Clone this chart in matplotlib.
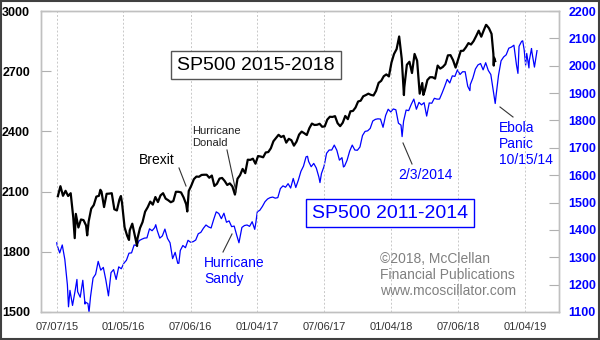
import matplotlib
matplotlib.use("Agg")
import matplotlib.pyplot as plt
import matplotlib.dates as mdates
from matplotlib.lines import Line2D
from matplotlib.patches import Rectangle
import pandas as pd

plt.rcParams["font.family"] = ["Liberation Sans", "DejaVu Sans"]

# S&P 500 weekly closes (Fridays), Jul 2015 - Oct 2018
sp_recent_start = "2015-07-10"
sp_recent_weekly = [
    2077, 2127, 2079, 2104,                 # Jul 2015
    2078, 2092, 1971, 1989,                 # Aug
    1921, 1961, 1958, 1931,                 # Sep
    1951, 2015, 2033, 2075, 2079,           # Oct
    2100, 2023, 2089, 2090,                 # Nov
    2092, 2012, 2006, 2061,                 # Dec
    2044, 1922, 1880, 1907, 1940,           # Jan 2016
    1880, 1865, 1918, 1948,                 # Feb
    2000, 2022, 2050, 2035,                 # Mar
    2073, 2048, 2081, 2092, 2065,           # Apr
    2057, 2047, 2053, 2099,                 # May
    2099, 2096, 2071, 2037,                 # Jun
    2103, 2130, 2162, 2175, 2174,           # Jul
    2183, 2184, 2184, 2169,                 # Aug
    2180, 2128, 2139, 2165, 2168,           # Sep
    2153, 2133, 2141, 2126,                 # Oct
    2085, 2164, 2182, 2213,                 # Nov
    2192, 2259, 2258, 2264, 2239,           # Dec
    2277, 2275, 2271, 2295,                 # Jan 2017
    2297, 2316, 2351, 2367,                 # Feb
    2383, 2372, 2378, 2344, 2363,           # Mar
    2356, 2329, 2349, 2384,                 # Apr
    2399, 2391, 2382, 2416,                 # May
    2439, 2432, 2433, 2438, 2423,           # Jun
    2425, 2459, 2473, 2472,                 # Jul
    2476, 2441, 2426, 2443,                 # Aug
    2477, 2461, 2500, 2502, 2519,           # Sep
    2549, 2553, 2575, 2581,                 # Oct
    2588, 2582, 2579, 2602,                 # Nov
    2642, 2652, 2675, 2684, 2674,           # Dec
    2743, 2786, 2810, 2873,                 # Jan 2018
    2762, 2620, 2732, 2747,                 # Feb
    2691, 2786, 2752, 2588, 2641,           # Mar
    2604, 2656, 2670, 2670,                 # Apr
    2663, 2728, 2713, 2721,                 # May
    2735, 2779, 2780, 2755, 2718,           # Jun
    2760, 2801, 2802, 2819,                 # Jul
    2840, 2833, 2850, 2875, 2902,           # Aug
    2872, 2905, 2930, 2914,                 # Sep
    2886, 2767,                             # Oct
]
# mid-week turning points
sp_recent_extra_dates = [
    "2015-08-25", "2015-09-28", "2015-11-03", "2015-12-29", "2016-01-20",
    "2016-02-11", "2016-06-27", "2018-02-08", "2018-04-02", "2018-09-20",
    "2018-10-10", "2018-10-11", "2018-10-15",
]
sp_recent_extra = [1868, 1882, 2109, 2078, 1859, 1829, 2001, 2581, 2582, 2931,
                   2786, 2728, 2750]

# S&P 500 weekly closes (Fridays), Jul 2011 - Feb 2015
sp_past_start = "2011-07-08"
sp_past_weekly = [
    1344, 1316, 1345, 1292,                 # Jul 2011
    1199, 1179, 1124, 1177,                 # Aug
    1174, 1154, 1216, 1136, 1131,           # Sep
    1155, 1224, 1238, 1285,                 # Oct
    1253, 1263, 1216, 1159,                 # Nov
    1244, 1255, 1219, 1265, 1258,           # Dec
    1278, 1289, 1315, 1316,                 # Jan 2012
    1345, 1343, 1361, 1366,                 # Feb
    1370, 1371, 1404, 1397, 1408,           # Mar
    1398, 1370, 1378, 1403,                 # Apr
    1369, 1353, 1295, 1318,                 # May
    1278, 1325, 1343, 1335, 1362,           # Jun
    1355, 1357, 1363, 1386,                 # Jul
    1391, 1406, 1418, 1411, 1407,           # Aug
    1438, 1466, 1460, 1441,                 # Sep
    1461, 1428, 1433, 1412,                 # Oct
    1414, 1380, 1360, 1409, 1416,           # Nov
    1418, 1413, 1430, 1402,                 # Dec
    1466, 1472, 1486, 1503,                 # Jan 2013
    1513, 1518, 1520, 1516,                 # Feb
    1518, 1551, 1561, 1556, 1569,           # Mar
    1553, 1588, 1555, 1582,                 # Apr
    1614, 1633, 1667, 1650, 1631,           # May
    1643, 1626, 1593, 1606,                 # Jun
    1632, 1680, 1692, 1692,                 # Jul
    1710, 1691, 1655, 1664, 1633,           # Aug
    1655, 1688, 1710, 1692,                 # Sep
    1691, 1703, 1745, 1760,                 # Oct
    1762, 1771, 1798, 1804, 1806,           # Nov
    1805, 1775, 1818, 1841,                 # Dec
    1831, 1842, 1839, 1790, 1783,           # Jan 2014
    1797, 1838, 1836, 1859,                 # Feb
    1878, 1841, 1866, 1857,                 # Mar
    1865, 1816, 1864, 1863,                 # Apr
    1881, 1878, 1878, 1900, 1924,           # May
    1950, 1937, 1963, 1961,                 # Jun
    1985, 1968, 1978, 1978,                 # Jul
    1925, 1931, 1955, 1988, 2003,           # Aug
    2008, 1985, 2011, 1983,                 # Sep
    1968, 1906, 1887, 1965, 2018,           # Oct
    2032, 2040, 2064, 2068,                 # Nov
    2075, 2003, 2071, 2089,                 # Dec
    2058, 2045, 2019, 2051, 1995,           # Jan 2015
    2055,                                   # Feb
]
sp_past_extra_dates = [
    "2011-07-07", "2011-08-08", "2011-08-31", "2011-09-22", "2011-10-03",
    "2012-04-02", "2012-06-04", "2012-11-15", "2012-12-31", "2013-05-21",
    "2013-06-24", "2013-08-27", "2014-02-03", "2014-08-07", "2014-10-15",
    "2014-12-16", "2014-12-29", "2015-01-06", "2015-01-15", "2015-01-22",
]
sp_past_extra = [1353, 1119, 1219, 1129, 1099, 1419, 1278, 1353, 1426, 1669,
                 1573, 1630, 1741, 1909, 1862, 1972, 2091, 2002, 1992, 2063]

tick_dates = ["2015-07-07", "2016-01-05", "2016-07-06", "2017-01-04",
              "2017-07-06", "2018-01-04", "2018-07-06", "2019-01-04"]
left_ticks = [1500, 1800, 2100, 2400, 2700, 3000]
right_ticks = list(range(1100, 2201, 100))


def build_series(start, weekly, extra_dates, extra):
    s = pd.Series(weekly, index=pd.date_range(start, periods=len(weekly), freq="W-FRI"))
    s = pd.concat([s, pd.Series(extra, index=pd.to_datetime(extra_dates))])
    return s.sort_index()


recent = build_series(sp_recent_start, sp_recent_weekly, sp_recent_extra_dates, sp_recent_extra)
past = build_series(sp_past_start, sp_past_weekly, sp_past_extra_dates, sp_past_extra)
past.index = past.index + pd.DateOffset(years=4)

W, H = 600, 340


def fx(x):
    return x / W


def fy(y):
    return 1 - y / H


fig = plt.figure(figsize=(6, 3.4), dpi=100)
ax = fig.add_axes([fx(41), fy(312), fx(559) - fx(41), fy(11) - fy(312)])
ax2 = ax.twinx()
ax.set_zorder(ax2.get_zorder() + 1)
ax.patch.set_visible(False)

ax2.plot(past.index, past.values, color="#0000ff", lw=0.9)
ax.plot(recent.index, recent.values, color="black", lw=1.6)

ticks = pd.to_datetime(tick_dates)
ax.set_xlim(pd.Timestamp("2015-05-25"), pd.Timestamp("2019-04-07"))
ax.set_xticks(ticks)
ax.xaxis.set_major_formatter(mdates.DateFormatter("%m/%d/%y"))
for t in ticks:
    ax.axvline(t, color="#c8c8c8", lw=0.7, ls=(0, (2, 2)), zorder=0)

ax.set_ylim(1500, 3000)
ax.set_yticks(left_ticks)
ax2.set_ylim(1100, 2200)
ax2.set_yticks(right_ticks)

ax.tick_params(axis="x", length=0, pad=7, labelsize=8, labelcolor="#333333")
ax.tick_params(axis="y", direction="in", length=7, color="#b0b0b0", pad=8, labelsize=9)
ax2.tick_params(axis="y", direction="in", length=7, color="#b0b0b0", pad=7, labelsize=9,
                labelcolor="#0000ff")
for lab in ax.get_yticklabels() + ax2.get_yticklabels():
    lab.set_fontweight("bold")

for a in (ax, ax2):
    for sp in a.spines.values():
        sp.set_color("#c0c0c0")
        sp.set_linewidth(1)

# series titles
fig.text(fx(256), fy(65), "SP500 2015-2018", fontsize=14, color="black",
         ha="center", va="center",
         bbox=dict(boxstyle="square,pad=0.3", fc="white", ec="#555555", lw=1))
fig.text(fx(390), fy(213), "SP500 2011-2014", fontsize=14, color="#0000ff",
         ha="center", va="center",
         bbox=dict(boxstyle="square,pad=0.3", fc="white", ec="#0000ff", lw=1))

# event notes
fig.text(fx(139), fy(160), "Brexit", fontsize=10, color="black", va="center")
fig.text(fx(192), fy(137), "Hurricane\nDonald", fontsize=8, color="#222222",
         va="center", linespacing=1.25)
fig.text(fx(204), fy(271), "Hurricane\nSandy", fontsize=10, color="#0000ff",
         va="center", linespacing=1.2)
fig.text(fx(398), fy(175), "2/3/2014", fontsize=10, color="#0000ff", va="center")
fig.text(fx(499), fy(144), "Ebola\nPanic\n10/15/14", fontsize=10, color="#0000ff",
         va="center", linespacing=1.2)
fig.text(fx(380), fy(275), "\u00a92018, McClellan\nFinancial Publications\nwww.mcoscillator.com",
         fontsize=10, color="#808080", va="center", linespacing=1.2)

leaders = [
    ((179, 168), (186, 186)),
    ((227, 150), (236, 192)),
    ((223, 252), (232, 234)),
    ((403, 143), (412, 164)),
    ((500, 107), (513, 117)),
]
for (x0, y0), (x1, y1) in leaders:
    fig.add_artist(Line2D([fx(x0), fx(x1)], [fy(y0), fy(y1)], color="#333333", lw=0.8,
                          transform=fig.transFigure))

fig.add_artist(Rectangle((0.001, 0.002), 0.997, 0.996, fill=False, ec="#404040", lw=1.5,
                         transform=fig.transFigure))

fig.savefig("out.png", dpi=100)
